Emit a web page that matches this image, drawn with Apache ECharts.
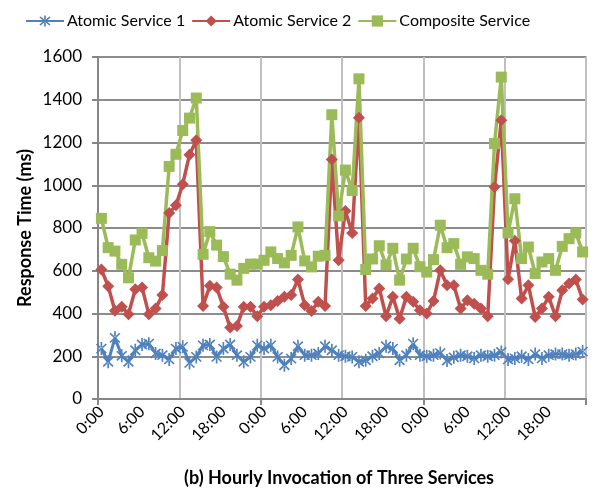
<!DOCTYPE html>
<html>
<head>
<meta charset="utf-8">
<script src="https://cdn.jsdelivr.net/npm/echarts@6/dist/echarts.min.js"></script>
<style>
  html, body { margin: 0; padding: 0; background: #fff; }
  #chart { width: 595px; height: 492px; }
</style>
</head>
<body>
<div id="chart"></div>
<script>
// hour labels of one day, repeated for three days
const hourLabels = ['0:00', '1:00', '2:00', '3:00', '4:00', '5:00', '6:00', '7:00', '8:00', '9:00', '10:00', '11:00',
  '12:00', '13:00', '14:00', '15:00', '16:00', '17:00', '18:00', '19:00', '20:00', '21:00', '22:00', '23:00'];
const days = 3;

const atomic1 = [
  236, 174, 286, 202, 174, 228, 255, 259, 213, 205, 185, 236, 244, 169, 197, 251, 255, 197, 236, 255, 205, 174, 197, 251,
  236, 251, 197, 158, 189, 247, 205, 205, 213, 247, 228, 205, 200, 197, 174, 181, 200, 213, 247, 236, 181, 205, 259, 205,
  200, 205, 215, 180, 195, 205, 200, 190, 205, 200, 205, 220, 185, 190, 200, 185, 210, 190, 205, 210, 210, 205, 210, 222
];
const atomic2 = [
  606, 528, 413, 431, 397, 514, 522, 397, 423, 486, 870, 906, 1005, 1143, 1210, 435, 530, 522, 431, 334, 342, 431, 431, 387,
  431, 439, 459, 478, 486, 559, 439, 412, 455, 435, 1120, 649, 880, 777, 1316, 435, 470, 517, 387, 478, 376, 478, 455, 415,
  400, 459, 602, 532, 532, 423, 462, 446, 423, 387, 992, 1304, 560, 740, 470, 532, 384, 423, 478, 387, 509, 540, 559, 465
];
const composite = [
  845, 708, 692, 630, 567, 744, 775, 661, 645, 694, 1088, 1145, 1256, 1314, 1408, 677, 783, 720, 666, 584, 556, 611, 631, 631,
  649, 688, 657, 637, 672, 805, 646, 618, 668, 672, 1330, 857, 1071, 975, 1498, 606, 655, 717, 627, 705, 556, 655, 705, 619,
  594, 652, 813, 708, 727, 630, 665, 657, 602, 584, 1195, 1506, 777, 937, 657, 711, 587, 641, 657, 602, 714, 750, 777, 688
];

let categories = [];
for (let d = 0; d < days; d++) categories = categories.concat(hourLabels);

// excel-like asterisk marker: X plus vertical bar
const asterisk = 'path://M-1.2,-10L1.2,-10L1.2,10L-1.2,10Z' +
  'M6.22,7.92L7.92,6.22L-6.22,-7.92L-7.92,-6.22Z' +
  'M-7.92,6.22L-6.22,7.92L7.92,-6.22L6.22,-7.92Z';

const font = 'Lato, "Liberation Sans", sans-serif';

var mychart = echarts.init(document.getElementById('chart'), null, { renderer: 'canvas' });
mychart.setOption({
  animation: false,
  textStyle: { fontFamily: font },
  legend: {
    left: 20,
    top: 8,
    itemWidth: 38,
    itemHeight: 14,
    itemGap: 6,
    textStyle: { fontSize: 16, color: '#000', fontFamily: font, padding: [0, 0, 0, -2] },
    data: ['Atomic Service 1', 'Atomic Service 2', 'Composite Service']
  },
  grid: {
    left: 98, right: 9, top: 57, bottom: 93,
    show: true, borderColor: '#c0c0c0', borderWidth: 2
  },
  xAxis: {
    type: 'category',
    data: categories,
    boundaryGap: true,
    axisLine: { lineStyle: { color: '#868686', width: 2 } },
    axisTick: { show: true, interval: 23, length: 6, lineStyle: { color: '#868686', width: 2 } },
    axisLabel: { interval: 5, rotate: 45, fontSize: 16, color: '#000', margin: 10, fontFamily: font },
    splitLine: { show: true, interval: 11, lineStyle: { color: '#c0c0c0', width: 2 } }
  },
  yAxis: {
    type: 'value',
    min: 0, max: 1600, interval: 200,
    axisLine: { show: true, lineStyle: { color: '#868686', width: 2 } },
    axisTick: { show: true, length: 6, lineStyle: { color: '#868686', width: 2 } },
    axisLabel: { fontSize: 17, color: '#000', margin: 16, fontFamily: font, formatter: (v) => String(v) },
    splitLine: { lineStyle: { color: '#8c8c8c', width: 2 } }
  },
  graphic: [
    {
      type: 'text', x: 25, y: 228, rotation: Math.PI / 2,
      style: { text: 'Response Time (ms)', fontSize: 18, fontWeight: 'bold', fill: '#000',
        fontFamily: font, textAlign: 'center', textVerticalAlign: 'middle' }
    },
    {
      type: 'text', x: 339, y: 478,
      style: { text: '(b) Hourly Invocation of Three Services', fontSize: 18, fontWeight: 'bold', fill: '#000',
        fontFamily: font, textAlign: 'center', textVerticalAlign: 'middle' }
    }
  ],
  series: [
    {
      name: 'Atomic Service 1', type: 'line', data: atomic1,
      showAllSymbol: true,
      symbol: asterisk, symbolSize: [11, 13],
      lineStyle: { color: '#4F81BD', width: 3 },
      itemStyle: { color: '#4F81BD' }
    },
    {
      name: 'Atomic Service 2', type: 'line', data: atomic2,
      showAllSymbol: true,
      symbol: 'diamond', symbolSize: [12, 12],
      lineStyle: { color: '#C0504D', width: 3.5 },
      itemStyle: { color: '#C0504D' }
    },
    {
      name: 'Composite Service', type: 'line', data: composite,
      showAllSymbol: true,
      symbol: 'rect', symbolSize: [11, 11],
      lineStyle: { color: '#9BBB59', width: 3.5 },
      itemStyle: { color: '#9BBB59' }
    }
  ]
});
</script>
</body>
</html>
